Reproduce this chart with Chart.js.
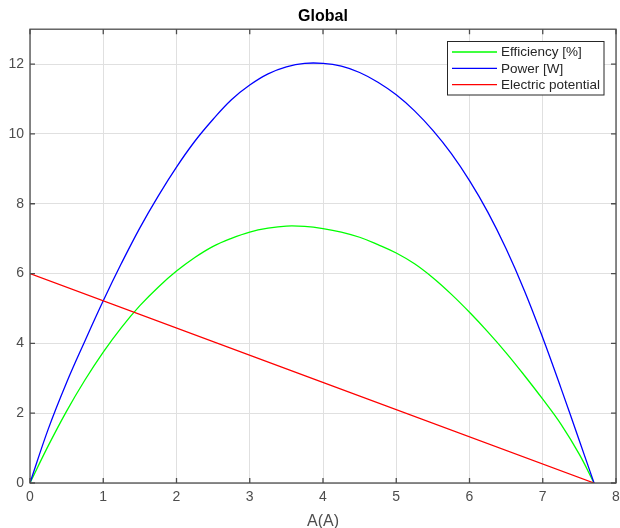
<!DOCTYPE html>
<html>
<head>
<meta charset="utf-8">
<script src="https://cdn.jsdelivr.net/npm/chart.js@4.4.1/dist/chart.umd.min.js"></script>
<style>
  html, body { margin: 0; padding: 0; background: #fff; }
  #wrap { width: 620px; height: 528px; }
</style>
</head>
<body>
<div id="wrap"><canvas id="chart" width="620" height="528"></canvas></div>
<script>
// values
const current = [0, 0.25, 0.5, 0.75, 1, 1.25, 1.5, 1.75, 2, 2.25, 2.5, 2.75, 3, 3.25, 3.5, 3.75, 4,
  4.25, 4.5, 4.75, 5, 5.25, 5.5, 5.75, 6, 6.25, 6.5, 6.75, 7, 7.25, 7.5, 7.7];
const efficiency = [0, 1.07, 2.06, 2.95, 3.75, 4.46, 5.08, 5.61, 6.07, 6.46, 6.78, 7.01, 7.19, 7.30, 7.36, 7.35, 7.29,
  7.19, 7.04, 6.83, 6.59, 6.28, 5.88, 5.41, 4.89, 4.33, 3.73, 3.08, 2.40, 1.68, 0.82, 0];
const power = [0, 1.55, 2.88, 4.07, 5.22, 6.30, 7.31, 8.22, 9.05, 9.79, 10.42, 10.98, 11.40, 11.72, 11.92, 12.02, 12.02,
  11.94, 11.76, 11.48, 11.12, 10.66, 10.10, 9.44, 8.66, 7.76, 6.71, 5.51, 4.16, 2.71, 1.21, 0];
const potentialX = [0, 7.7];
const potential = [6, 0];

const seriesNames = ['Efficiency [%]', 'Power [W]', 'Electric potential'];
const seriesColors = ['#00ff00', '#0000ff', '#ff0000'];
const xTicks = [0, 1, 2, 3, 4, 5, 6, 7, 8];
const yTicks = [0, 2, 4, 6, 8, 10, 12];

const FONT = 'Arial, "Liberation Sans", Helvetica, sans-serif';
const AXIS = '#4d4d4d';

function pts(xs, ys) {
  return xs.map((x, i) => ({ x, y: ys[i] }));
}

// box round the axes, inward ticks on all four sides, and the boxed legend
const frame = {
  id: 'frame',
  afterDraw(chart) {
    const { ctx, chartArea: a, scales: { x, y } } = chart;
    ctx.save();
    ctx.strokeStyle = AXIS;
    ctx.lineWidth = 1.3;
    ctx.strokeRect(a.left, a.top, a.right - a.left, a.bottom - a.top);
    ctx.beginPath();
    for (const v of xTicks) {
      const px = x.getPixelForValue(v);
      ctx.moveTo(px, a.bottom); ctx.lineTo(px, a.bottom - 5);
      ctx.moveTo(px, a.top); ctx.lineTo(px, a.top + 5);
    }
    for (const v of yTicks) {
      const py = y.getPixelForValue(v);
      ctx.moveTo(a.left, py); ctx.lineTo(a.left + 5, py);
      ctx.moveTo(a.right, py); ctx.lineTo(a.right - 5, py);
    }
    ctx.stroke();

    // legend
    const lx = 447.5, ly = 41.5, lw = 156.5, lh = 53.5;
    ctx.fillStyle = '#fff';
    ctx.fillRect(lx, ly, lw, lh);
    ctx.strokeStyle = '#262626';
    ctx.lineWidth = 1;
    ctx.strokeRect(lx, ly, lw, lh);
    ctx.font = '13.5px ' + FONT;
    ctx.textBaseline = 'middle';
    ctx.textAlign = 'left';
    chart.data.datasets.forEach((ds, i) => {
      const ry = 52 + i * 16.3;
      ctx.strokeStyle = ds.borderColor;
      ctx.lineWidth = 1.3;
      ctx.beginPath();
      ctx.moveTo(452, ry); ctx.lineTo(497, ry);
      ctx.stroke();
      ctx.fillStyle = '#262626';
      ctx.fillText(ds.label, 501, ry + 0.5);
    });
    ctx.restore();
  }
};

new Chart(document.getElementById('chart'), {
  type: 'line',
  data: {
    datasets: [
      { label: seriesNames[0], data: pts(current, efficiency), borderColor: seriesColors[0], order: 2 },
      { label: seriesNames[1], data: pts(current, power), borderColor: seriesColors[1], order: 1 },
      { label: seriesNames[2], data: pts(potentialX, potential), borderColor: seriesColors[2], order: 0 },
    ],
  },
  options: {
    responsive: false,
    animation: false,
    devicePixelRatio: 1,
    layout: { padding: { left: 0, right: 4, top: 0, bottom: 0 } },
    elements: {
      point: { radius: 0 },
      line: { borderWidth: 1.3, tension: 0.4, fill: false },
    },
    plugins: {
      legend: { display: false },
      tooltip: { enabled: false },
      title: {
        display: true,
        text: 'Global',
        fullSize: false,
        color: '#000',
        font: { family: FONT, size: 16, weight: 'bold' },
        padding: { top: 7, bottom: 3 },
      },
    },
    scales: {
      x: {
        type: 'linear',
        min: 0,
        max: 8,
        afterBuildTicks: s => { s.ticks = xTicks.map(v => ({ value: v })); },
        afterFit: s => { s.height = 45; s.paddingLeft = 0; s.paddingRight = 0; },
        grid: { color: '#e0e0e0', drawTicks: false },
        border: { display: false },
        ticks: { color: '#4d4d4d', padding: 6, font: { family: FONT, size: 14 } },
        title: {
          display: true,
          text: 'A(A)',
          color: '#4d4d4d',
          font: { family: FONT, size: 16 },
          padding: { top: 0, bottom: -3 },
        },
      },
      y: {
        min: 0,
        max: 13,
        afterBuildTicks: s => { s.ticks = yTicks.map(v => ({ value: v })); },
        afterFit: s => { s.width = 30; },
        grid: { color: '#e0e0e0', drawTicks: false },
        border: { display: false },
        ticks: { color: '#4d4d4d', padding: 6, font: { family: FONT, size: 14 } },
      },
    },
  },
  plugins: [frame],
});
</script>
</body>
</html>
